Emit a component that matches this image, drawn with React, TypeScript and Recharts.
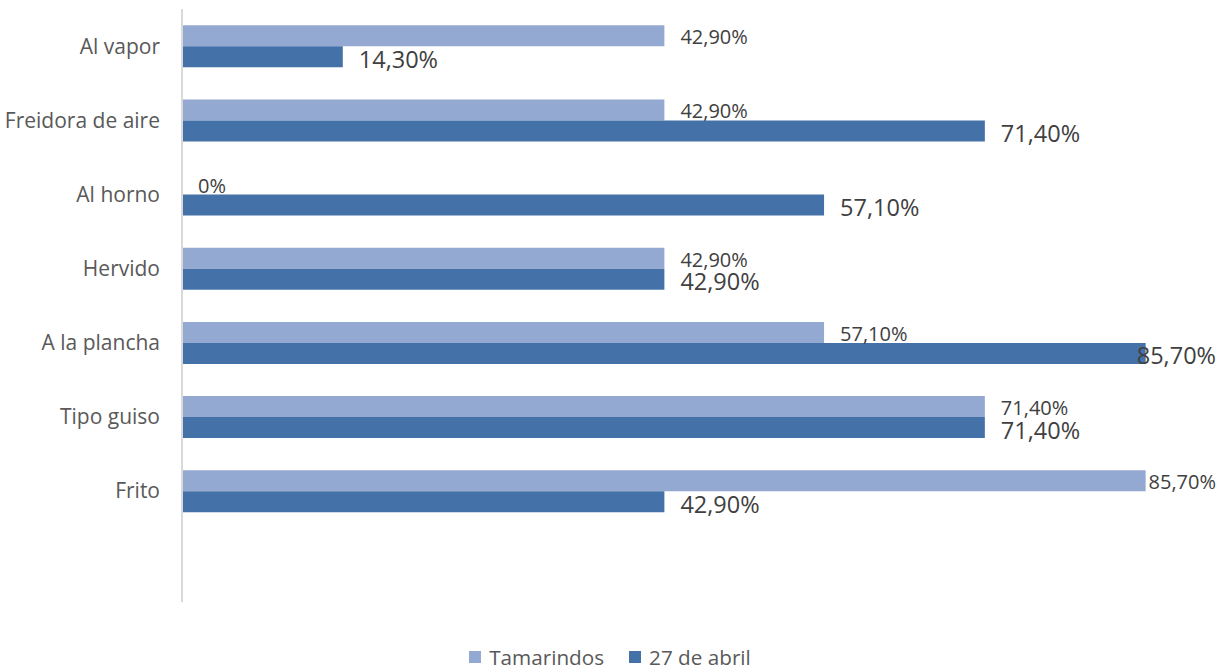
import React from "react";
import { BarChart, Bar, XAxis, YAxis, Legend, LabelList } from "recharts";

const categories = ["Al vapor", "Freidora de aire", "Al horno", "Hervido", "A la plancha", "Tipo guiso", "Frito"];
const tamarindos = [42.9, 42.9, 0, 42.9, 57.1, 71.4, 85.7];
const abril27 = [14.3, 71.4, 57.1, 42.9, 85.7, 71.4, 42.9];
const seriesNames = ["Tamarindos", "27 de abril"];

const data = categories.map((name, i) => ({ name, tamarindos: tamarindos[i], abril: abril27[i] }));

const FONT = "'Open Sans', sans-serif";
const LIGHT = "#94a9d2";
const DARK = "#4472a8";
const COLORS = [LIGHT, DARK];

const fmt = (v: number) => (v === 0 ? "0%" : v.toFixed(2).replace(".", ",") + "%");

function labelText(x: number, y: number, text: string, fontSize: number, key?: string) {
  let tx = x;
  let anchor: "start" | "end" = "start";
  const est = text.length * fontSize * 0.56;
  if (tx + est > 1216) {
    tx = 1216;
    anchor = "end";
  }
  return (
    <text key={key} x={tx} y={y} textAnchor={anchor} dominantBaseline="central" fontSize={fontSize} fill="#404040" fontFamily={FONT}>
      {text}
    </text>
  );
}

const lightLabel = (props: any) => {
  const { x, y, width, height, value } = props;
  return labelText(x + width + 16, y + height / 2 + 1, fmt(value), 20);
};

// a zero-width bar gets no label from recharts, so the dark bar also draws the "0%" one above it
const darkLabel = (props: any) => {
  const { x, y, width, height, value, index } = props;
  const out = [labelText(x + width + 16, y + height / 2 + 2, fmt(value), 23.5, "d")];
  if (tamarindos[index] === 0) out.push(labelText(x + 16, y - height / 2 + 1, fmt(0), 20, "l"));
  return <g>{out}</g>;
};

const legendContent = () => (
  <div style={{ display: "flex", justifyContent: "center", fontFamily: FONT, fontSize: 20.7, color: "#595959", paddingLeft: 26 }}>
    {seriesNames.map((n, i) => (
      <span key={n} style={{ display: "flex", alignItems: "center", marginRight: i === 0 ? 25 : 0 }}>
        <span style={{ display: "inline-block", width: 12, height: 12, background: COLORS[i], marginRight: 8 }} />
        {n}
      </span>
    ))}
  </div>
);

export default function App() {
  return (
    <div style={{ position: "absolute", left: 0, top: 0, width: 1219, height: 670, background: "#fff" }}>
      <BarChart
        width={1219}
        height={670}
        data={data}
        layout="vertical"
        margin={{ top: 9, right: 25, bottom: 40, left: 0 }}
        barCategoryGap="22%"
        barGap={0}
      >
        <XAxis type="number" domain={[0, 90]} hide />
        <YAxis
          type="category"
          dataKey="name"
          width={182}
          padding={{ top: 0, bottom: 74 }}
          tickLine={false}
          axisLine={{ stroke: "#d9d9d9", strokeWidth: 2 }}
          tickMargin={16}
          tick={{ fontSize: 21, fill: "#595959", fontFamily: FONT }}
        />
        <Legend verticalAlign="bottom" align="center" content={legendContent} wrapperStyle={{ bottom: -1 }} />
        <Bar dataKey="tamarindos" name="Tamarindos" fill={LIGHT} isAnimationActive={false}>
          <LabelList dataKey="tamarindos" content={lightLabel} />
        </Bar>
        <Bar dataKey="abril" name="27 de abril" fill={DARK} isAnimationActive={false}>
          <LabelList dataKey="abril" content={darkLabel} />
        </Bar>
      </BarChart>
    </div>
  );
}
